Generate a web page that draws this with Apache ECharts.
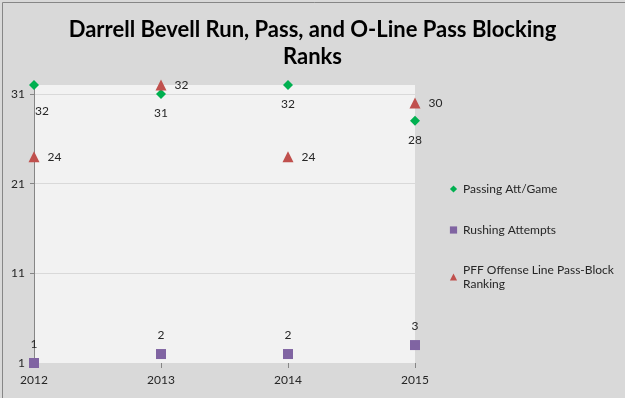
<html lang="en">
<head>
    <meta charset="UTF-8">
    <title>demo</title>
</head>
<body style="margin:0">
    <div id="container" style="width:625px;height:398px"></div>
    <script src="https://cdn.jsdelivr.net/npm/echarts@6/dist/echarts.min.js"></script>
    <script>
        var years = ['2012', '2013', '2014', '2015'];
        var passingAtt = [32, 31, 32, 28];
        var rushingAtt = [1, 2, 2, 3];
        var pffPassBlock = [24, 32, 24, 30];
        var yTicks = [1, 11, 21, 31];

        var myChart = echarts.init(document.getElementById('container'));
        var font = 'Lato';
        var labelStyle = { show: true, color: '#262626', fontFamily: font, fontSize: 12 };
        var legendText = { fontFamily: font, fontSize: 12, color: '#262626' };

        var option = {
            backgroundColor: '#d9d9d9',
            animation: false,
            graphic: [{
                type: 'rect', left: 0, top: 0,
                shape: { x: 0.5, y: 0.5, width: 624, height: 397 },
                style: { fill: 'none', stroke: '#868686', lineWidth: 1 },
                silent: true
            }],
            title: {
                text: 'Darrell Bevell Run, Pass, and O-Line Pass Blocking\nRanks',
                left: 'center',
                top: 11,
                textStyle: { fontFamily: font, fontWeight: 'bold', fontSize: 22, lineHeight: 27, color: '#000' }
            },
            grid: { left: 34, right: 210, top: 85, bottom: 35, show: true, backgroundColor: '#f2f2f2', borderWidth: 0 },
            legend: [
                { data: ['Passing Att/Game'], left: 444, top: 178, itemWidth: 9, itemHeight: 9, itemGap: 4, textStyle: legendText },
                { data: ['Rushing Attempts'], left: 444, top: 219, itemWidth: 9, itemHeight: 9, textStyle: legendText },
                { data: ['PFF Offense Line Pass-Block Ranking'], left: 444, top: 258, itemWidth: 9, itemHeight: 9,
                  formatter: function () { return 'PFF Offense Line Pass-Block\nRanking'; },
                  textStyle: Object.assign({ lineHeight: 14 }, legendText) }
            ],
            xAxis: {
                type: 'category',
                data: years,
                boundaryGap: false,
                axisLine: { lineStyle: { color: '#d9d9d9' } },
                axisTick: { show: true, lineStyle: { color: '#868686' }, length: 5 },
                axisLabel: { color: '#262626', fontFamily: font, fontSize: 12, margin: 11 },
                splitLine: { show: false }
            },
            yAxis: {
                type: 'value',
                min: 1,
                max: 32,
                interval: 10,
                axisLine: { show: true, lineStyle: { color: '#868686' } },
                axisTick: { show: true, inside: false, length: 4, lineStyle: { color: '#868686' } },
                axisLabel: {
                    color: '#262626', fontFamily: font, fontSize: 12, margin: 9, showMaxLabel: false,
                    formatter: function (v) { return yTicks.indexOf(v) >= 0 ? String(v) : ''; }
                },
                splitLine: { show: true, showMaxLine: false, lineStyle: { color: '#d9d9d9' } }
            },
            series: [
                {
                    name: 'Passing Att/Game', type: 'line',
                    data: passingAtt.map(function (v, i) {
                        return i === 0 ? { value: v, label: { offset: [8, 7] } } : v;
                    }),
                    lineStyle: { width: 0 }, symbol: 'diamond', symbolSize: 10,
                    itemStyle: { color: '#00b050' },
                    label: Object.assign({ position: 'bottom', distance: 8 }, labelStyle)
                },
                {
                    name: 'Rushing Attempts', type: 'line', data: rushingAtt,
                    lineStyle: { width: 0 }, symbol: 'rect', symbolSize: 10,
                    itemStyle: { color: '#8064a2' },
                    label: Object.assign({ position: 'top', distance: 8 }, labelStyle)
                },
                {
                    name: 'PFF Offense Line Pass-Block Ranking', type: 'line', data: pffPassBlock,
                    lineStyle: { width: 0 }, symbol: 'triangle', symbolSize: 11,
                    itemStyle: { color: '#c0504d' },
                    label: Object.assign({ position: 'right', distance: 8 }, labelStyle)
                }
            ]
        };
        myChart.setOption(option);
    </script>
</body>
</html>
